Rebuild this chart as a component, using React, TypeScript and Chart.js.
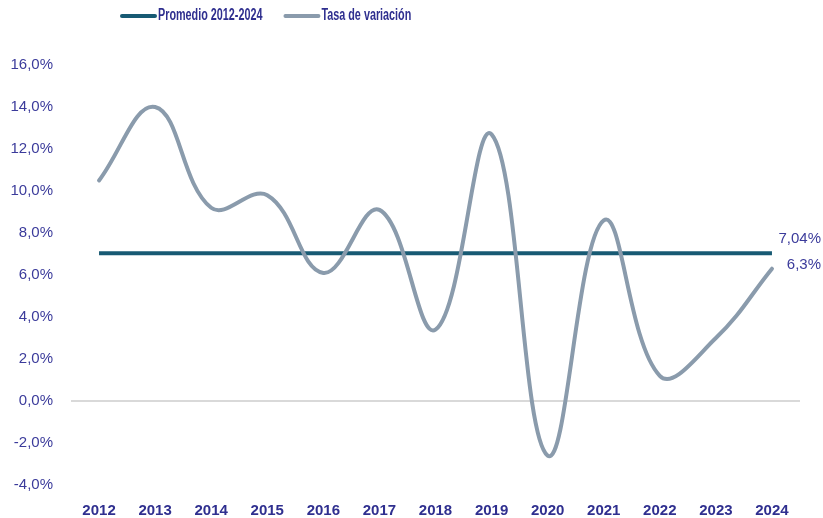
import React, { useEffect, useRef } from "react";
import { Chart, registerables } from "chart.js";

Chart.register(...registerables);

const categories = ["2012", "2013", "2014", "2015", "2016", "2017", "2018", "2019", "2020", "2021", "2022", "2023", "2024"];
const tasaVariacion = [10.5, 14.0, 9.2, 9.8, 6.1, 9.1, 3.4, 12.7, -2.6, 8.6, 1.2, 3.0, 6.3];
const promedio = 7.04;
const promedioSeries = categories.map(() => promedio);
const seriesNames = ["Promedio 2012-2024", "Tasa de variación"];
const yTicks = [-4, -2, 0, 2, 4, 6, 8, 10, 12, 14, 16];

const TEXT = "#3b3b9b";
const AVG_COLOR = "#175a73";
const VAR_COLOR = "#8a9bac";
const FONT = "'Liberation Sans', Arial, sans-serif";

const fmt = (v: number, d: number) => v.toFixed(d).replace(".", ",") + "%";

const overlayPlugin = {
  id: "overlay",
  afterDraw(chart: any) {
    const ctx = chart.ctx;
    ctx.save();
    // legend
    const items = [
      { label: seriesNames[0], color: AVG_COLOR },
      { label: seriesNames[1], color: VAR_COLOR },
    ];
    const squeeze = 0.675;
    ctx.font = `bold 16px ${FONT}`;
    ctx.textBaseline = "middle";
    ctx.textAlign = "left";
    let x = 122;
    const y = 16;
    items.forEach((it) => {
      ctx.strokeStyle = it.color;
      ctx.lineWidth = 4;
      ctx.lineCap = "round";
      ctx.beginPath();
      ctx.moveTo(x, y);
      ctx.lineTo(x + 33, y);
      ctx.stroke();
      ctx.fillStyle = "#2f2f8f";
      const tx = x + 36;
      ctx.save();
      ctx.translate(tx, y);
      ctx.scale(squeeze, 1);
      ctx.fillText(it.label, 0, 0);
      ctx.restore();
      x = tx + ctx.measureText(it.label).width * squeeze + 23;
    });
    // end labels
    const avgMeta = chart.getDatasetMeta(0);
    const varMeta = chart.getDatasetMeta(1);
    const pa = avgMeta.data[avgMeta.data.length - 1];
    const pv = varMeta.data[varMeta.data.length - 1];
    ctx.font = `15px ${FONT}`;
    ctx.fillStyle = TEXT;
    ctx.textAlign = "right";
    const rx = chart.width - 2;
    ctx.fillText(fmt(promedio, 2), rx, pa.y - 14);
    ctx.fillText(fmt(tasaVariacion[tasaVariacion.length - 1], 1), rx, pv.y - 4);
    ctx.restore();
  },
};

export default function App() {
  const ref = useRef<HTMLCanvasElement>(null);
  useEffect(() => {
    document.body.style.margin = "0";
    const chart = new Chart(ref.current!, {
      type: "line",
      data: {
        labels: categories,
        datasets: [
          {
            label: seriesNames[0],
            data: promedioSeries,
            borderColor: AVG_COLOR,
            borderWidth: 4,
            pointRadius: 0,
            tension: 0,
            order: 1,
          },
          {
            label: seriesNames[1],
            data: tasaVariacion,
            borderColor: VAR_COLOR,
            borderWidth: 4,
            pointRadius: 0,
            tension: 0.4,
            borderCapStyle: "round",
            order: 0,
          },
        ],
      },
      options: {
        animation: false,
        responsive: false,
        maintainAspectRatio: false,
        layout: { padding: { top: 65, right: 23, left: 0, bottom: 0 } },
        plugins: { legend: { display: false }, tooltip: { enabled: false } },
        scales: {
          x: {
            offset: true,
            grid: { display: false, drawTicks: false },
            border: { display: false },
            ticks: {
              color: "#2f2f8f",
              font: { family: FONT, size: 15, weight: "bold" },
              padding: 17,
              maxRotation: 0,
              autoSkip: false,
            },
            afterFit(scale: any) {
              scale.height = 33;
            },
          },
          y: {
            min: -4,
            max: 16,
            afterBuildTicks(scale: any) {
              scale.ticks = yTicks.map((v) => ({ value: v }));
            },
            grid: {
              drawTicks: false,
              color: (c: any) => (c.tick && c.tick.value === 0 ? "#d9d9d9" : "rgba(0,0,0,0)"),
              lineWidth: 2,
            },
            border: { display: false },
            ticks: {
              color: TEXT,
              font: { family: FONT, size: 15 },
              padding: 18,
              callback: (v: any) => fmt(Number(v), 1),
            },
            afterFit(scale: any) {
              scale.width = 71;
            },
          },
        },
      },
      plugins: [overlayPlugin],
    });
    return () => chart.destroy();
  }, []);
  return <canvas ref={ref} width={823} height={518} style={{ display: "block" }} />;
}
